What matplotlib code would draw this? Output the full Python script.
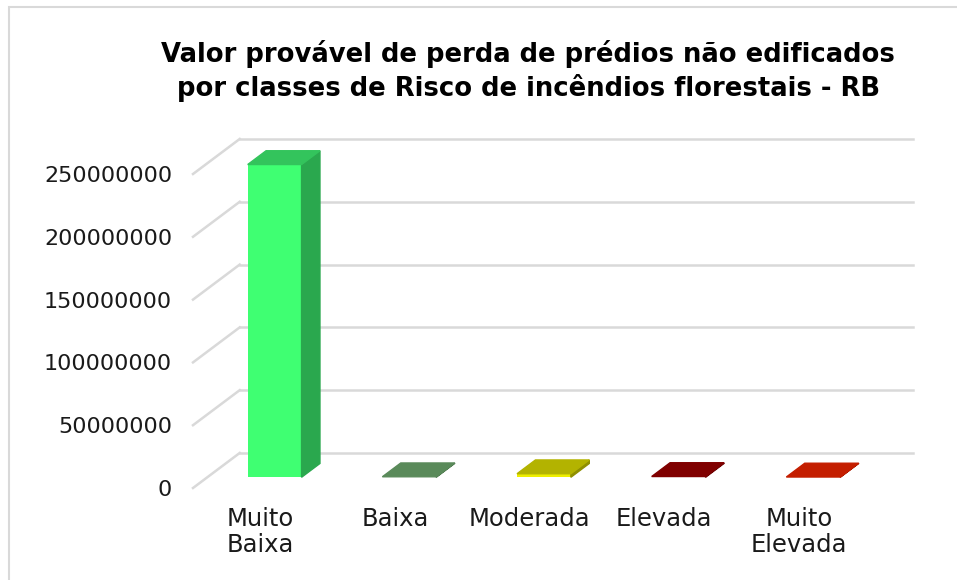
import matplotlib.pyplot as plt
from matplotlib.patches import Polygon, Rectangle

categories = ["Muito\nBaixa", "Baixa", "Moderada", "Elevada", "Muito\nElevada"]
values = [249000000, 400000, 2800000, 600000, 200000]
colors = ["#3FFF72", "#78B878", "#EEEE00", "#A00000", "#F02800"]
top_colors = ["#33C45C", "#5A8A5A", "#B3B300", "#800000", "#C41E00"]
side_colors = ["#2AA84E", "#4A734A", "#8F8F00", "#660000", "#9E1800"]
yticks = [0, 50000000, 100000000, 150000000, 200000000, 250000000]

# oblique depth offset of the back wall, in data units
DX = 0.347
DY = 27.9e6
# bars sit between these depths (fraction of the floor depth)
D0, D1 = 0.306, 0.70
BAR_W = 0.40

fig = plt.figure(figsize=(9.57, 5.80), dpi=100)
ax = fig.add_axes([193 / 957, 92 / 580, 673.3 / 957, 314 / 580])
ax.set_xlim(0, 5)
ax.set_ylim(0, 250000000)

grid_kw = dict(color="#D9D9D9", lw=1.8, clip_on=False, zorder=1)
for t in yticks:
    ax.plot([DX, 5 + DX], [t + DY, t + DY], **grid_kw)
    ax.plot([0, DX], [t, t + DY], **grid_kw)

for i, v in enumerate(values):
    x0 = i + 0.5 - BAR_W / 2 + D0 * DX
    x1 = x0 + BAR_W
    y0 = D0 * DY
    ddx = (D1 - D0) * DX
    ddy = (D1 - D0) * DY
    ax.bar(x0, v, width=BAR_W, bottom=y0, align="edge", color=colors[i],
           clip_on=False, zorder=3)
    side = [(x1, y0), (x1 + ddx, y0 + ddy), (x1 + ddx, y0 + ddy + v), (x1, y0 + v)]
    top = [(x0, y0 + v), (x1, y0 + v), (x1 + ddx, y0 + ddy + v), (x0 + ddx, y0 + ddy + v)]
    ax.add_patch(Polygon(side, closed=True, color=side_colors[i], clip_on=False, zorder=3))
    ax.add_patch(Polygon(top, closed=True, color=top_colors[i], clip_on=False, zorder=3))

ax.set_yticks(yticks)
ax.set_yticklabels([str(t) for t in yticks])
ax.set_xticks([i + 0.5 for i in range(5)])
ax.set_xticklabels(categories)
ax.tick_params(axis="y", length=0, pad=15, labelsize=16, labelcolor="#1A1A1A")
ax.tick_params(axis="x", length=0, pad=14, labelsize=17.5, labelcolor="#1A1A1A")
for lbl in ax.get_xticklabels():
    lbl.set_multialignment("center")
    lbl.set_linespacing(1.1)
for s in ax.spines.values():
    s.set_visible(False)
ax.patch.set_visible(False)

fig.text(0.552, 0.877, "Valor provável de perda de prédios não edificados\n"
         "por classes de Risco de incêndios florestais - RB",
         ha="center", va="center", fontsize=18.6, fontweight="bold",
         linespacing=1.27, color="black")

# chart frame
fig.patches.append(Rectangle((9 / 957, -0.1), 1.2, 1.1 - 7 / 580,
                             transform=fig.transFigure, fill=False,
                             edgecolor="#D9D9D9", lw=1.5))

fig.savefig("out.png", dpi=100)
